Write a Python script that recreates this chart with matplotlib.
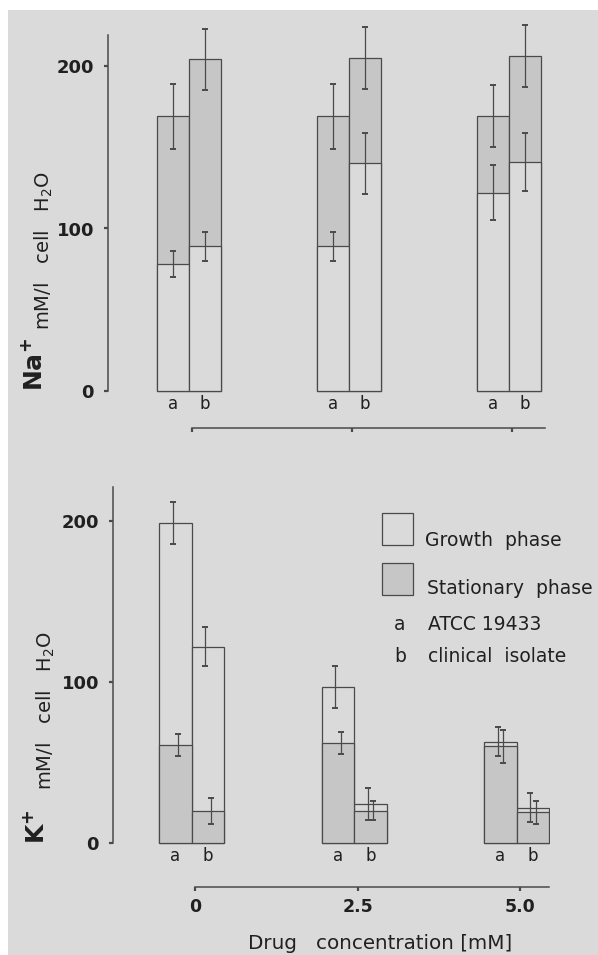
import matplotlib
matplotlib.use("Agg")
from matplotlib import pyplot as plt
from matplotlib.patches import Rectangle

# drug concentration groups (mM)
conc = [0, 2.5, 5.0]
conc_labels = ["0", "2.5", "5.0"]

# Na+ panel, mM/l cell H2O
na_growth_a = [78, 89, 122]
na_growth_a_err = [8, 9, 17]
na_stat_a = [169, 169, 169]
na_stat_a_err = [20, 20, 19]
na_growth_b = [89, 140, 141]
na_growth_b_err = [9, 19, 18]
na_stat_b = [204, 205, 206]
na_stat_b_err = [19, 19, 19]

# K+ panel, mM/l cell H2O
k_growth_a = [199, 97, 63]
k_growth_a_err = [13, 13, 9]
k_stat_a = [61, 62, 60]
k_stat_a_err = [7, 7, 10]
k_growth_b = [122, 24, 22]
k_growth_b_err = [12, 10, 9]
k_stat_b = [20, 20, 19]
k_stat_b_err = [8, 6, 7]

strain_labels = ["a", "b"]

BG = "#dadada"
STAT = "#c6c6c6"
LINE = "#4a4a4a"
TXT = "#202020"
GROWTH_FC = BG

W, H = 598, 955
fig = plt.figure(figsize=(W / 100, H / 100), dpi=100)
fig.patch.set_facecolor("white")
# grey paper of the scan
fig.patches.append(Rectangle((8 / W, 0), 1, 1 - 10 / H, transform=fig.transFigure,
                             facecolor=BG, edgecolor="none", zorder=-10))


def px_axes(left, right, top, bottom):
    return fig.add_axes([left / W, 1 - bottom / H, (right - left) / W, (bottom - top) / H])


def draw_bar(ax, x0, width, g, g_err, s, s_err, eoff):
    # taller bar first, shorter bar drawn over it
    items = [(g, GROWTH_FC, g_err, -eoff), (s, STAT, s_err, eoff)]
    items.sort(key=lambda t: -t[0])
    for z, (val, fc, err, off) in enumerate(items):
        ax.bar(x0, val, width=width, align="edge", facecolor=fc, edgecolor=LINE,
               linewidth=0.9, zorder=2 + z)
    for val, fc, err, off in items:
        ax.errorbar(x0 + width / 2 + off, val, yerr=err, fmt="none", ecolor=LINE,
                    elinewidth=0.9, capsize=2.2, capthick=1.4, zorder=5, clip_on=False)


def panel(ax, xlim, ylim, xmax, ga, gae, sa, sae, gb, gbe, sb, sbe, eoff):
    ax.set_facecolor("none")
    ax.set_xlim(*xlim)
    ax.set_ylim(*ylim)
    width = 0.5
    for i, x in enumerate(conc):
        draw_bar(ax, x - 0.55, width, ga[i], gae[i], sa[i], sae[i], eoff)
        draw_bar(ax, x - 0.05, width, gb[i], gbe[i], sb[i], sbe[i], eoff)
        for j, lab in enumerate(strain_labels):
            ax.annotate(lab, xy=(x - 0.3 + 0.5 * j, 0), xytext=(0, -3),
                        textcoords="offset points", ha="center", va="top",
                        fontsize=12, color=TXT)
    for s in ["top", "right"]:
        ax.spines[s].set_visible(False)
    ax.spines["left"].set_bounds(0, ylim[1])
    ax.spines["bottom"].set_bounds(0, xmax)
    for s in ["left", "bottom"]:
        ax.spines[s].set_color(LINE)
        ax.spines[s].set_linewidth(1.1)
    ax.set_yticks([0, 100, 200])
    ax.set_yticklabels(["0", "100", "200"], fontweight="bold", fontsize=13, color=TXT)
    ax.set_xticks(conc)
    ax.tick_params(length=3, width=1.6, color=LINE, pad=7)


ax1 = px_axes(108, 550, 35, 428)
panel(ax1, ((108 - 192) / 64, (550 - 192) / 64), ((391 - 428) / 1.625, (391 - 35) / 1.625),
      5.52, na_growth_a, na_growth_a_err, na_stat_a, na_stat_a_err,
      na_growth_b, na_growth_b_err, na_stat_b, na_stat_b_err, 0.0)
ax1.set_xticklabels([])

ax2 = px_axes(113, 550, 487, 887)
panel(ax2, ((113 - 195) / 65, (550 - 195) / 65), ((843 - 887) / 1.61, (843 - 487) / 1.61),
      5.45, k_growth_a, k_growth_a_err, k_stat_a, k_stat_a_err,
      k_growth_b, k_growth_b_err, k_stat_b, k_stat_b_err, 0.04)
ax2.set_xticklabels(conc_labels, fontweight="bold", fontsize=12.5, color=TXT)
ax2.tick_params(axis="x", pad=5)

# y axis labels
YL = "mM/l   cell   H$_2$O"
fig.text(34 / W, 1 - 391 / H, r"$\mathbf{Na^{+}}$", rotation=90, ha="center", va="bottom",
         fontsize=18, color=TXT)
fig.text(44 / W, 1 - 330 / H, YL, rotation=90, ha="center", va="bottom",
         fontsize=14, color=TXT)
fig.text(36 / W, 1 - 844 / H, r"$\mathbf{K^{+}}$", rotation=90, ha="center", va="bottom",
         fontsize=18, color=TXT)
fig.text(46 / W, 1 - 790 / H, YL, rotation=90, ha="center", va="bottom",
         fontsize=14, color=TXT)

# x axis label
fig.text(248 / W, 1 - 943 / H, "Drug   concentration [mM]", ha="left", va="center",
         fontsize=14.3, color=TXT)

# legend
for top, fc in [(513, GROWTH_FC), (563, STAT)]:
    fig.patches.append(Rectangle((382 / W, 1 - (top + 32) / H), 31 / W, 32 / H,
                                 transform=fig.transFigure, facecolor=fc,
                                 edgecolor=LINE, linewidth=0.9))
LEG = 13.5
fig.text(425 / W, 1 - 541 / H, "Growth  phase", ha="left", va="center", fontsize=LEG, color=TXT)
fig.text(427 / W, 1 - 588 / H, "Stationary  phase", ha="left", va="center", fontsize=LEG, color=TXT)
fig.text(400 / W, 1 - 625 / H, "a", ha="center", va="center", fontsize=LEG, color=TXT)
fig.text(428 / W, 1 - 625 / H, "ATCC 19433", ha="left", va="center", fontsize=LEG, color=TXT)
fig.text(400 / W, 1 - 656 / H, "b", ha="center", va="center", fontsize=LEG, color=TXT)
fig.text(428 / W, 1 - 656 / H, "clinical  isolate", ha="left", va="center", fontsize=LEG, color=TXT)

fig.savefig("out.png", dpi=100)
